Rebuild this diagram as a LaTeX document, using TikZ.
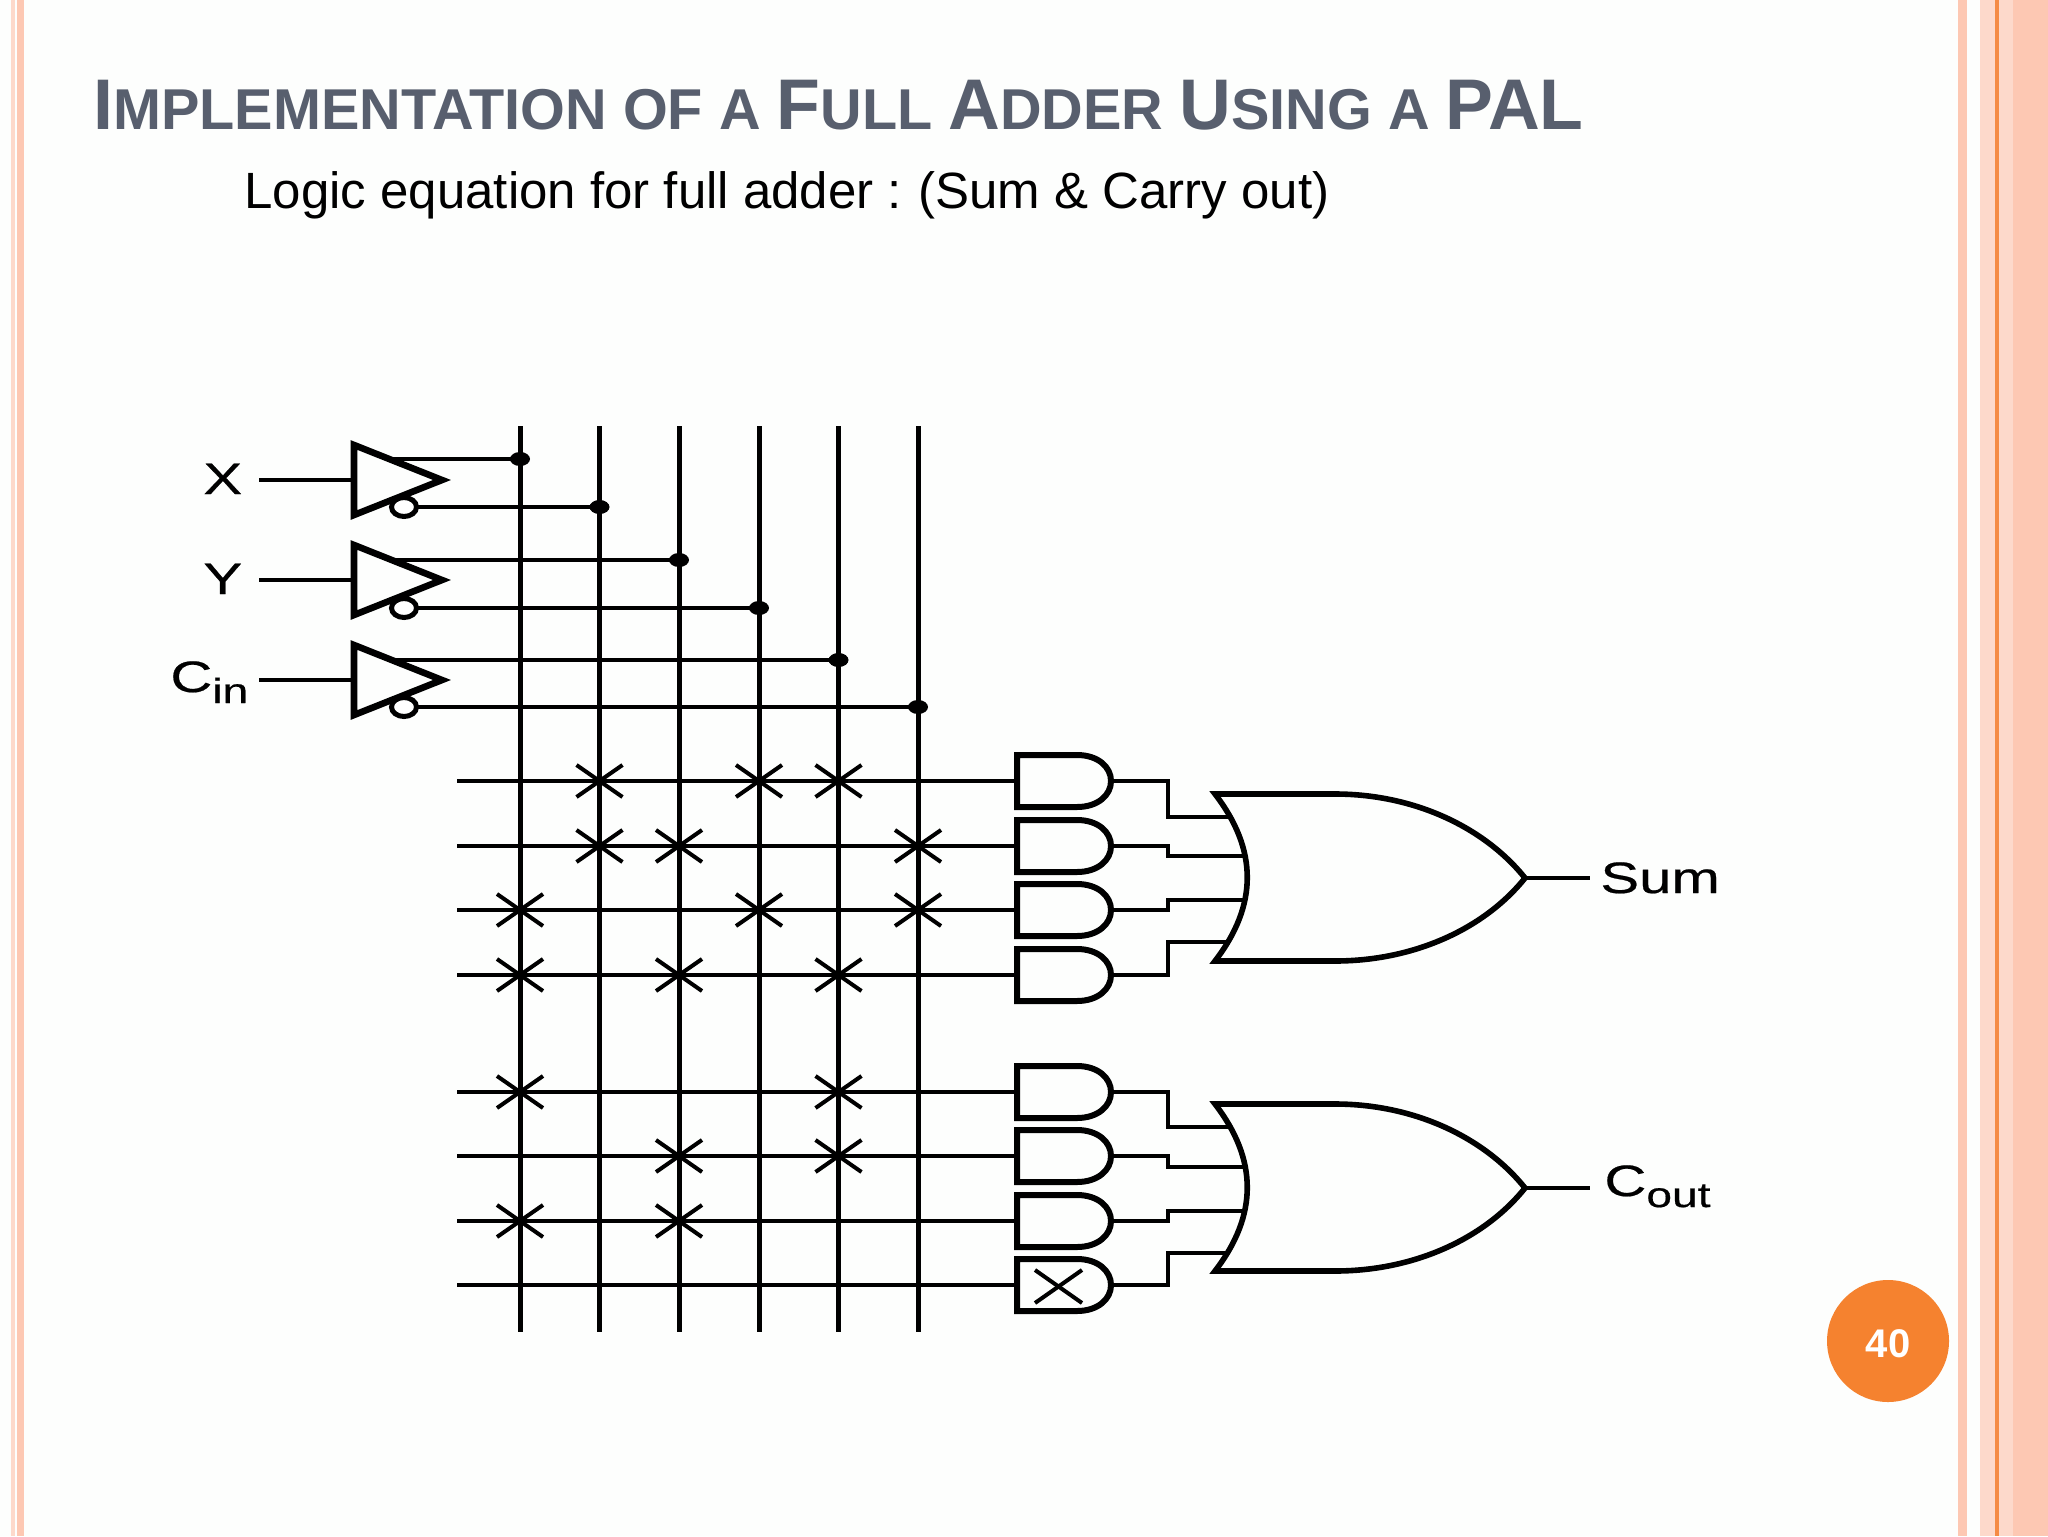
\documentclass[tikz,border=0pt]{standalone}
\usepackage{fontspec}
\setmainfont{Liberation Sans}
\newfontfamily\widefont[FakeStretch=1.32,FakeBold=0.5]{Liberation Sans}
\definecolor{pageback}{HTML}{FDFEFD}
\definecolor{peach}{HTML}{FDC8B3}
\definecolor{peachlight}{HTML}{FDD9CB}
\definecolor{stripe}{HTML}{F58B45}
\definecolor{titlegrey}{HTML}{585F6E}
\definecolor{badge}{HTML}{F5822F}
\newcommand{\tbig}[1]{{\fontsize{35.85}{40}\selectfont #1}}
\newcommand{\tsm}[1]{{\fontsize{28.8}{34}\selectfont #1}}
\newcommand{\lab}[1]{{\widefont\fontsize{22}{24}\selectfont #1}}
\newcommand{\labsub}[1]{\raisebox{-5.5pt}{\widefont\fontsize{17.5}{20}\selectfont #1}}
\tikzset{
  wire/.style={line width=2pt,black},
  column/.style={line width=2.5pt,black},
  gate/.style={line width=3pt,black,line join=miter,fill=none},
  orgate/.style={line width=2.8pt,black,line join=miter},
  bubble/.style={line width=2.5pt,black,fill=white},
  fuse/.style={line width=2pt,black},
  dotmark/.style={fill=black},
  txt/.style={inner sep=0pt,anchor=base west},
}
\begin{document}
\begin{tikzpicture}[x=0.5pt,y=-0.5pt]
\useasboundingbox (0,0) rectangle (2048,1536);
% page
\fill[pageback] (0,0) rectangle (2048,1536);
\fill[peachlight] (10.5,0) rectangle (15,1536);
\fill[peach] (17,0) rectangle (24,1536);
\fill[peach] (1958,0) rectangle (1967,1536);
\fill[peachlight] (1980,0) rectangle (1996,1536);
\fill[stripe] (1995,0) rectangle (1998.5,1536);
\fill[peachlight] (1998.5,0) rectangle (2013,1536);
\fill[peach] (2013,0) rectangle (2048,1536);
% title
\node[txt,text=titlegrey,font=\bfseries] (title) at (93,129)
  {\tbig{I}\tsm{MPLEMENTATION OF A }\tbig{F}\tsm{ULL }\tbig{A}\tsm{DDER }\tbig{U}\tsm{SING A }\tbig{PAL}};
\node[txt,text=black] (subtitle) at (244,208) {\fontsize{25.5}{30}\selectfont Logic equation for full adder :\hspace{-1.3pt} (Sum \& Carry out)};
% columns
\foreach \n/\x in {1/520,2/599.5,3/679,4/759,5/838.5,6/918}{
  \coordinate (c\n t) at (\x,426);
  \coordinate (c\n b) at (\x,1332);
  \draw[column] (c\n t) -- (c\n b);
}
% input buffers
\foreach \n/\y/\hi/\lo/\tgt in {a/480/459/507/1,b/580/560/608/3,c/680/660/707/5}{
  \coordinate (in\n) at (259,\y);
  \coordinate (tl\n) at (354,\y-35);
  \coordinate (bl\n) at (354,\y+35);
  \coordinate (tip\n) at (442,\y);
  \coordinate (ml\n) at (354,\y);
  \coordinate (hi\n) at (393,\hi);
  \coordinate (lo\n) at (404,\lo);
  \draw[wire] (in\n) -- (ml\n);
  \draw[gate,line width=3.3pt] (tl\n) -- (tip\n) -- (bl\n) -- cycle;
}
% true and complement rails
\foreach \r/\y/\col in {hia/459/1,loa/507/2,hib/560/3,lob/608/4,hic/660/5,loc/707/6}{
  \coordinate (rail\col) at (c\col t |- 0,\y);
  \draw[wire] (\r) -- (rail\col);
  \fill[dotmark] (rail\col) ellipse [x radius=10,y radius=7];
}
\foreach \n in {a,b,c}{
  \draw[bubble] (lo\n) ellipse [x radius=12.5,y radius=9.5];
}
\node[txt] (lx) at (203,494) {\lab{X}};
\node[txt] (ly) at (203,594) {\lab{Y}};
\node[txt] (lc) at (170,692) {\lab{C}\labsub{in}};
% AND rows
\foreach \n/\y in {1/781,2/846,3/910,4/975,5/1092,6/1156,7/1221,8/1285}{
  \coordinate (rs\n) at (457,\y);
  \coordinate (and\n) at (1017,\y);
  \coordinate (out\n) at (1111,\y);
  \draw[wire] (rs\n) -- (and\n);
  \draw[gate] (1017,\y-26) -- (1077,\y-26) .. controls (1098,\y-26) and (1111,\y-14) .. (1111,\y)
     .. controls (1111,\y+14) and (1098,\y+26) .. (1077,\y+26) -- (1017,\y+26) -- cycle;
}
% fuses
\foreach \r/\c in {1/2,1/4,1/5,2/2,2/3,2/6,3/1,3/4,3/6,4/1,4/3,4/5,5/1,5/5,6/3,6/5,7/1,7/3}{
  \coordinate (f) at (c\c t |- rs\r);
  \draw[fuse] ([shift={(-23,-16)}]f) -- ([shift={(23,16)}]f);
  \draw[fuse] ([shift={(-23,16)}]f) -- ([shift={(23,-16)}]f);
}
\draw[fuse] (1035,1270) -- (1082,1303);
\draw[fuse] (1035,1303) -- (1082,1270);
% OR gates
\foreach \n/\cy in {s/878,k/1188}{
  \coordinate (or\n) at (1525,\cy);
  \coordinate (orout\n) at (1590,\cy);
  \draw[wire] (or\n) -- (orout\n);
  \draw[orgate,fill=pageback] (1215,\cy-84) -- (1335,\cy-84)
    .. controls (1415,\cy-84) and (1485,\cy-50) .. (or\n)
    .. controls (1485,\cy+50) and (1415,\cy+83) .. (1335,\cy+83) -- (1215,\cy+83)
    .. controls (1258,\cy+27) and (1258,\cy-28) .. cycle;
}
% gate-to-OR wiring
\foreach \n/\yy/\xe in {1/817/1229,2/856/1243,3/900/1243,4/942/1229,5/1127/1229,6/1167/1243,7/1211/1243,8/1253/1229}{
  \coordinate (oin\n) at (\xe,\yy);
  \draw[wire,line join=miter] (out\n) -| (1168,\yy) -- (oin\n);
}
\node[txt] (lsum) at (1600,893) {\lab{Sum}};
\node[txt] (lcout) at (1604,1196) {\lab{C}\labsub{out}};
% page badge
\node[circle,fill=badge,minimum size=61pt,inner sep=0pt] (page) at (1888,1341) {};
\node[text=white,inner sep=0pt,font=\bfseries\fontsize{20}{24}\selectfont] (pagenum) at (1888,1344) {40};
\end{tikzpicture}
\end{document}
